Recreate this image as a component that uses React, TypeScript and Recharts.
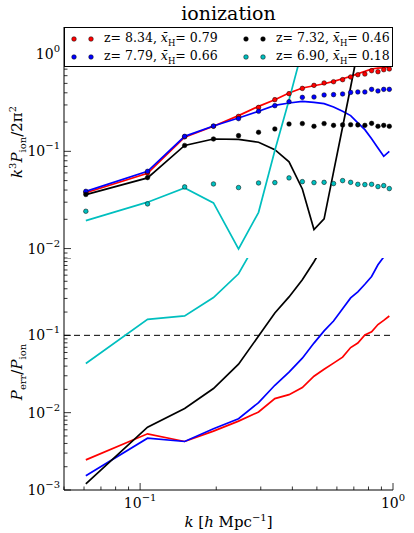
import React from 'react'
import { LineChart, Line, XAxis, YAxis, ReferenceLine, Legend } from 'recharts'

// k bins [h/Mpc]
const kBins = [
  0.061, 0.107, 0.15, 0.195, 0.245, 0.294, 0.341, 0.388, 0.438, 0.487,
  0.534, 0.582, 0.632, 0.68, 0.726, 0.774, 0.823, 0.872, 0.919, 0.967,
]

// legend info per redshift
const seriesZ = ['8.34', '7.79', '7.32', '6.90']
const seriesXH = ['0.79', '0.66', '0.46', '0.18']
const seriesColors = ['#ff0000', '#0000ff', '#000000', '#00bfbf']

// top panel: k^3 P_ion / 2pi^2, points (true) and lines (recovered)
const redPts = [0.0378, 0.06, 0.141, 0.181, 0.229, 0.283, 0.34, 0.392, 0.444, 0.477, 0.505, 0.52, 0.546, 0.582, 0.614, 0.624, 0.675, 0.659, 0.691, 0.703]
const bluePts = [0.0388, 0.0623, 0.1426, 0.182, 0.217, 0.258, 0.295, 0.324, 0.359, 0.362, 0.38, 0.383, 0.389, 0.404, 0.408, 0.408, 0.434, 0.418, 0.434, 0.434]
const blackPts = [0.036, 0.0537, 0.115, 0.134, 0.145, 0.157, 0.17, 0.191, 0.193, 0.181, 0.193, 0.185, 0.187, 0.188, 0.187, 0.185, 0.194, 0.181, 0.185, 0.181]
const cyanPts = [0.0242, 0.0288, 0.0431, 0.0462, 0.0424, 0.0473, 0.0477, 0.0533, 0.0488, 0.0477, 0.048, 0.0466, 0.05, 0.048, 0.0458, 0.0455, 0.0458, 0.0434, 0.0444, 0.0414]

const redLine = [0.0375, 0.0595, 0.14, 0.181, 0.233, 0.29, 0.34, 0.398, 0.448, 0.473, 0.496, 0.524, 0.558, 0.59, 0.629, 0.664, 0.703, 0.716, 0.724, 0.733]
const blueLine = [0.0388, 0.0623, 0.1426, 0.182, 0.22, 0.258, 0.297, 0.314, 0.326, 0.319, 0.309, 0.286, 0.258, 0.233, 0.196, 0.167, 0.135, 0.108, 0.0889, 0.1]
const blackLine = [0.0359, 0.0533, 0.115, 0.134, 0.133, 0.124, 0.104, 0.078, 0.041, 0.0157, 0.0202, 0.0614, 0.178, 0.459, 1.09, 2.24]
const cyanLine = [0.0194, 0.03, 0.042, 0.0295, 0.0099, 0.0236, 0.102, 0.338, 1.11, 3.1]

// bottom panel: P_err / P_ion
const redErr = [0.00245, 0.00533, 0.00424, 0.00577, 0.00778, 0.0102, 0.0152, 0.0171, 0.0211, 0.0296, 0.0365, 0.0437, 0.0523, 0.0695, 0.0794, 0.101, 0.111, 0.138, 0.156, 0.178]
const blueErr = [0.00153, 0.00468, 0.00424, 0.0062, 0.00836, 0.0135, 0.0226, 0.0334, 0.0507, 0.0794, 0.114, 0.153, 0.22, 0.305, 0.365, 0.457, 0.577, 0.818, 1.03, 1.4]
const blackErr = [0.0012, 0.0065, 0.0113, 0.0205, 0.0424, 0.098, 0.195, 0.314, 0.522, 0.895, 1.5]
const cyanErr = [0.0433, 0.161, 0.178, 0.308, 0.625, 1.78]

const errThreshold = 0.1

const SERIF = '"DejaVu Serif", serif'
const W = 414
const PLOT_LEFT = 64
const PLOT_RIGHT = 21

const val = (arr: number[], i: number) => (i < arr.length ? arr[i] : null)

const topRows = kBins.map((k, i) => ({
  k,
  redPts: val(redPts, i),
  bluePts: val(bluePts, i),
  blackPts: val(blackPts, i),
  cyanPts: val(cyanPts, i),
  redLine: val(redLine, i),
  blueLine: val(blueLine, i),
  blackLine: val(blackLine, i),
  cyanLine: val(cyanLine, i),
}))

const bottomRows = kBins.map((k, i) => ({
  k,
  red: val(redErr, i),
  blue: val(blueErr, i),
  black: val(blackErr, i),
  cyan: val(cyanErr, i),
}))

// log ticks: mantissas 1..9 in each decade, kept inside [lo, hi]
function logTicks(lo: number, hi: number) {
  const out: number[] = []
  for (let e = Math.floor(Math.log10(lo)); e <= Math.ceil(Math.log10(hi)); e++) {
    for (let m = 1; m <= 9; m++) {
      const v = parseFloat((m * Math.pow(10, e)).toPrecision(3))
      if (v >= lo * 0.999 && v <= hi * 1.001) out.push(v)
    }
  }
  return out
}

const decade = (v: number) => {
  const l = Math.log10(v)
  const e = Math.round(l)
  return Math.abs(l - e) < 1e-6 ? e : null
}

const expText = (e: number) => (e < 0 ? '\u2212' + Math.abs(e) : String(e))

// matplotlib-style inward ticks, optional 10^n labels
function LogTick(props: any) {
  const { x, y, payload, side, labels } = props
  const e = decade(payload.value)
  const len = e !== null ? 7 : 3.5
  let dx = 0
  let dy = 0
  if (side === 'left') dx = len
  else if (side === 'right') dx = -len
  else if (side === 'top') dy = len
  else dy = -len
  const showLabel = labels && e !== null && labels.includes(e)
  return (
    <g>
      <line x1={x} y1={y} x2={x + dx} y2={y + dy} stroke="#000" strokeWidth={0.8} />
      {showLabel && side === 'left' && (
        <text x={x - 4} y={y + 5} textAnchor="end" fontFamily={SERIF} fontSize={14} fill="#000">
          10<tspan dy={-7} fontSize={10}>{expText(e)}</tspan>
        </text>
      )}
      {showLabel && side === 'bottom' && (
        <text x={x} y={y + 18} textAnchor="middle" fontFamily={SERIF} fontSize={14} fill="#000">
          10<tspan dy={-7} fontSize={10}>{expText(e)}</tspan>
        </text>
      )}
    </g>
  )
}

const xTicks = logTicks(0.05, 1)

function LegendBox() {
  const order = [0, 1, 2, 3]
  return (
    <div
      style={{
        width: 329,
        height: 40,
        boxSizing: 'border-box',
        border: '1px solid #000',
        background: '#fff',
        position: 'relative',
        fontFamily: SERIF,
        fontSize: 12.5,
        color: '#000',
      }}
    >
      {order.map((i) => {
        const col = Math.floor(i / 2)
        const row = i % 2
        return (
          <div
            key={i}
            style={{
              position: 'absolute',
              left: 5 + col * 172,
              top: 2 + row * 18,
              height: 17,
              display: 'flex',
              alignItems: 'center',
              whiteSpace: 'nowrap',
            }}
          >
            <svg width={34} height={10}>
              <circle cx={4} cy={5} r={2.3} fill={seriesColors[i]} stroke="#000" strokeWidth={0.5} />
              <circle cx={21} cy={5} r={2.3} fill={seriesColors[i]} stroke="#000" strokeWidth={0.5} />
            </svg>
            <span>
              z= {seriesZ[i]}, <i>x&#772;</i>
              <sub style={{ fontSize: 8.5 }}>H</sub>= {seriesXH[i]}
            </span>
          </div>
        )
      })}
    </div>
  )
}

function TopPanel() {
  const yTicks = logTicks(0.008, 1.9)
  const dot = (c: string) => ({ r: 2.3, fill: c, stroke: '#000', strokeWidth: 0.5 })
  return (
    <LineChart width={W} height={258} data={topRows} margin={{ top: 27, right: PLOT_RIGHT, bottom: 0, left: 0 }}>
      <XAxis xAxisId="b" dataKey="k" type="number" scale="log" domain={[0.05, 1]} allowDataOverflow ticks={xTicks} interval={0}
        height={0} tickSize={0} tickMargin={0} tickLine={false} axisLine={{ stroke: '#000' }}
        tick={(p: any) => <LogTick {...p} side="bottom" />} />
      <XAxis xAxisId="t" orientation="top" dataKey="k" type="number" scale="log" domain={[0.05, 1]} allowDataOverflow ticks={xTicks} interval={0}
        height={0} tickSize={0} tickMargin={0} tickLine={false} axisLine={{ stroke: '#000' }}
        tick={(p: any) => <LogTick {...p} side="top" />} />
      <YAxis yAxisId="l" type="number" scale="log" domain={[0.008, 1.9]} allowDataOverflow ticks={yTicks} interval={0}
        width={PLOT_LEFT} tickSize={0} tickMargin={0} tickLine={false} axisLine={{ stroke: '#000' }}
        tick={(p: any) => <LogTick {...p} side="left" labels={[-2, -1, 0]} />} />
      <YAxis yAxisId="r" orientation="right" type="number" scale="log" domain={[0.008, 1.9]} allowDataOverflow ticks={yTicks} interval={0}
        width={0} tickSize={0} tickMargin={0} tickLine={false} axisLine={{ stroke: '#000' }}
        tick={(p: any) => <LogTick {...p} side="right" />} />

      <Line xAxisId="b" yAxisId="l" dataKey="redPts" stroke="none" dot={dot('#ff0000')} isAnimationActive={false} />
      <Line xAxisId="b" yAxisId="l" dataKey="redLine" stroke="#ff0000" strokeWidth={1.7} dot={false} isAnimationActive={false} />
      <Line xAxisId="b" yAxisId="l" dataKey="bluePts" stroke="none" dot={dot('#0000ff')} isAnimationActive={false} />
      <Line xAxisId="b" yAxisId="l" dataKey="blueLine" stroke="#0000ff" strokeWidth={1.7} dot={false} isAnimationActive={false} />
      <Line xAxisId="b" yAxisId="l" dataKey="blackPts" stroke="none" dot={dot('#000000')} isAnimationActive={false} />
      <Line xAxisId="b" yAxisId="l" dataKey="blackLine" stroke="#000000" strokeWidth={1.7} dot={false} isAnimationActive={false} />
      <Line xAxisId="b" yAxisId="l" dataKey="cyanPts" stroke="none" dot={dot('#00bfbf')} isAnimationActive={false} />
      <Line xAxisId="b" yAxisId="l" dataKey="cyanLine" stroke="#00bfbf" strokeWidth={1.7} dot={false} isAnimationActive={false} />

      <Legend layout="vertical" align="center" verticalAlign="middle" content={() => <LegendBox />}
        wrapperStyle={{ top: 27, left: PLOT_LEFT, width: 329, height: 40 }} />
    </LineChart>
  )
}

function BottomPanel() {
  const yTicks = logTicks(0.001, 1)
  return (
    <LineChart width={W} height={275} data={bottomRows} margin={{ top: 0, right: PLOT_RIGHT, bottom: 0, left: 0 }}>
      <XAxis xAxisId="b" dataKey="k" type="number" scale="log" domain={[0.05, 1]} allowDataOverflow ticks={xTicks} interval={0}
        height={43} tickSize={0} tickMargin={0} tickLine={false} axisLine={{ stroke: '#000' }}
        tick={(p: any) => <LogTick {...p} side="bottom" labels={[-1, 0]} />} />
      <XAxis xAxisId="t" orientation="top" dataKey="k" type="number" scale="log" domain={[0.05, 1]} allowDataOverflow ticks={xTicks} interval={0}
        height={0} tickSize={0} tickMargin={0} tickLine={false} axisLine={{ stroke: '#000' }}
        tick={(p: any) => <LogTick {...p} side="top" />} />
      <YAxis yAxisId="l" type="number" scale="log" domain={[0.001, 1]} allowDataOverflow ticks={yTicks} interval={0}
        width={PLOT_LEFT} tickSize={0} tickMargin={0} tickLine={false} axisLine={{ stroke: '#000' }}
        tick={(p: any) => <LogTick {...p} side="left" labels={[-3, -2, -1]} />} />
      <YAxis yAxisId="r" orientation="right" type="number" scale="log" domain={[0.001, 1]} allowDataOverflow ticks={yTicks} interval={0}
        width={0} tickSize={0} tickMargin={0} tickLine={false} axisLine={{ stroke: '#000' }}
        tick={(p: any) => <LogTick {...p} side="right" />} />

      <ReferenceLine xAxisId="b" yAxisId="l" y={errThreshold} stroke="#000" strokeWidth={1} strokeDasharray="6 4" />

      <Line xAxisId="b" yAxisId="l" dataKey="red" stroke="#ff0000" strokeWidth={1.7} dot={false} isAnimationActive={false} />
      <Line xAxisId="b" yAxisId="l" dataKey="blue" stroke="#0000ff" strokeWidth={1.7} dot={false} isAnimationActive={false} />
      <Line xAxisId="b" yAxisId="l" dataKey="black" stroke="#000000" strokeWidth={1.7} dot={false} isAnimationActive={false} />
      <Line xAxisId="b" yAxisId="l" dataKey="cyan" stroke="#00bfbf" strokeWidth={1.7} dot={false} isAnimationActive={false} />
    </LineChart>
  )
}

export default function App() {
  return (
    <div style={{ position: 'absolute', left: 0, top: 0, width: W, height: 533, background: '#fff', fontFamily: SERIF, color: '#000' }}>
      <div style={{ position: 'absolute', left: PLOT_LEFT, width: 329, top: 2, textAlign: 'center', fontSize: 19 }}>ionization</div>

      <div style={{ position: 'absolute', left: 0, top: 0 }}>
        <TopPanel />
      </div>
      <div style={{ position: 'absolute', left: 0, top: 258 }}>
        <BottomPanel />
      </div>

      {/* y-axis titles */}
      <div style={{ position: 'absolute', left: 17, top: 142, transform: 'translate(-50%, -50%) rotate(-90deg)', whiteSpace: 'nowrap', fontSize: 15 }}>
        <i>k</i><sup style={{ fontSize: 10 }}>3</sup><i>P</i><sub style={{ fontSize: 10 }}>ion</sub>/2π<sup style={{ fontSize: 10 }}>2</sup>
      </div>
      <div style={{ position: 'absolute', left: 18, top: 372, transform: 'translate(-50%, -50%) rotate(-90deg)', whiteSpace: 'nowrap', fontSize: 15 }}>
        <i>P</i><sub style={{ fontSize: 10 }}>err</sub>/<i>P</i><sub style={{ fontSize: 10 }}>ion</sub>
      </div>

      {/* x-axis title */}
      <div style={{ position: 'absolute', left: PLOT_LEFT, width: 329, top: 512, textAlign: 'center', whiteSpace: 'nowrap', fontSize: 15 }}>
        <i>k</i> [<i>h</i> Mpc<sup style={{ fontSize: 10 }}>−1</sup>]
      </div>
    </div>
  )
}
